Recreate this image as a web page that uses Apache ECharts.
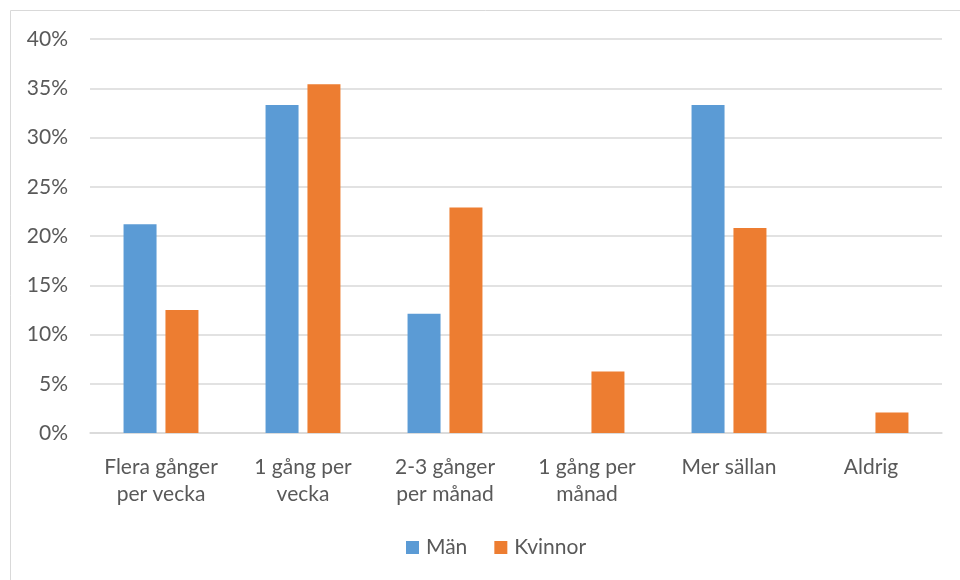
<!DOCTYPE html>
<html><head><meta charset="utf-8">
<script src="https://cdn.jsdelivr.net/npm/echarts@6/dist/echarts.min.js"></script>
<style>html,body{margin:0;padding:0;background:#fff}#c{width:960px;height:580px}</style>
</head><body><div id="c"></div>
<script>
const categories = ["Flera gånger\nper vecka", "1 gång per\nvecka", "2-3 gånger\nper månad", "1 gång per\nmånad", "Mer sällan", "Aldrig"];
const man = [21.2, 33.3, 12.1, 0, 33.3, 0];
const kvinnor = [12.5, 35.4, 22.9, 6.25, 20.8, 2.08];
const yTicks = [0, 5, 10, 15, 20, 25, 30, 35, 40];

const font = "Lato, 'Open Sans', sans-serif";
const chart = echarts.init(document.getElementById('c'));
chart.setOption({
  animation: false,
  graphic: [{type:'rect', shape:{x:10.5,y:10.5,width:960,height:580}, style:{fill:'none', stroke:'#D9D9D9', lineWidth:1}}],
  grid: {left: 90, right: 18, top: 39, bottom: 147},
  legend: {bottom: 17, left: 401, itemWidth: 13, itemHeight: 13, itemGap: 27,
    textStyle: {color: '#595959', fontSize: 21, fontFamily: font, padding: [0,0,0,2]},
    data: [{name:'Män', icon:'rect'}, {name:'Kvinnor', icon:'rect'}]},
  xAxis: {type: 'category', data: categories,
    axisLine: {lineStyle: {color: '#D9D9D9', width: 1.5}}, axisTick: {show: false},
    axisLabel: {color: '#595959', fontSize: 21, fontFamily: font, margin: 21, lineHeight: 27, interval: 0}},
  yAxis: {type: 'value', min: 0, max: 40, interval: 5,
    axisLine: {show: false}, axisTick: {show: false},
    splitLine: {lineStyle: {color: '#D9D9D9', width: 1.5}},
    axisLabel: {color: '#595959', fontSize: 21, fontFamily: font, margin: 22,
      formatter: v => yTicks.includes(v) ? v + '%' : ''}},
  series: [
    {name: 'Män', type: 'bar', data: man, barWidth: 33, barGap: '27%', itemStyle: {color: '#5B9BD5'}},
    {name: 'Kvinnor', type: 'bar', data: kvinnor, barWidth: 33, barGap: '27%', itemStyle: {color: '#ED7D31'}}
  ]
});
</script></body></html>
